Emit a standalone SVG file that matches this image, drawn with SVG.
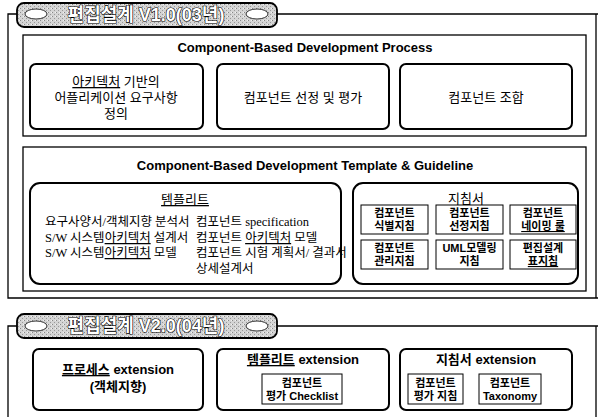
<svg xmlns="http://www.w3.org/2000/svg" width="598" height="417" viewBox="0 0 598 417">
<defs>
<pattern id="stip" width="4" height="4" patternUnits="userSpaceOnUse">
<rect width="4" height="4" fill="#d4d4d4"/>
<rect x="0" y="0" width="1" height="1" fill="#888"/>
<rect x="2" y="2" width="1" height="1" fill="#999"/>
<rect x="3" y="0" width="1" height="1" fill="#f2f2f2"/>
</pattern>
<style>
.frame{fill:none;stroke:#000;stroke-width:1.3}
.box{fill:#fff;stroke:#000;stroke-width:1.3}
.rbox{fill:#fff;stroke:#000;stroke-width:2}
.ibox{fill:#fff;stroke:#000;stroke-width:1}
.tab{fill:url(#stip);stroke:#000;stroke-width:1.8}
.cloud{fill:#fff;stroke:#333;stroke-width:1}
.tabt{font-family:"Liberation Sans","Noto Sans CJK KR",sans-serif;font-weight:bold;font-size:18px;fill:#fff;stroke:#000;stroke-width:1.2;text-anchor:middle;paint-order:stroke}
.ttl{font-family:"Liberation Sans","Noto Sans CJK KR",sans-serif;font-weight:bold;font-size:13px;fill:#000;text-anchor:middle}
.k{font-family:"Liberation Sans","Noto Sans CJK KR",sans-serif;font-size:13px;fill:#000;text-anchor:middle}
.kt{font-family:"Liberation Sans","Noto Sans CJK KR",sans-serif;font-size:13px;font-weight:bold;fill:#000;text-anchor:middle}
.kb{font-family:"Liberation Sans","Noto Sans CJK KR",sans-serif;font-size:11px;font-weight:bold;fill:#000;text-anchor:middle}
.s{font-family:"Liberation Serif","Noto Sans CJK KR",serif;font-size:12.5px;fill:#000}
.u{text-decoration:underline}
</style>
</defs>
<rect width="598" height="417" fill="#fff"/>

<g id="frame-v1">
<path class="frame" d="M17,14 H8 V298 H598 M277,14 H598 M596,14 V298"/>
<g id="tab-v1">
<rect class="tab" x="17" y="3" width="260" height="24" rx="7"/>
<ellipse class="cloud" cx="36" cy="14" rx="11" ry="5"/>
<ellipse class="cloud" cx="257" cy="14" rx="11" ry="5"/>
<text class="tabt" x="146" y="21">편집설계 V1.0(03년)</text>
</g>
</g>

<g id="process">
<rect class="box" x="23" y="35" width="563" height="101"/>
<text class="ttl" x="305" y="52">Component-Based Development Process</text>
<g id="p1">
<rect class="rbox" x="30" y="64" width="173" height="65" rx="6"/>
<text class="k" x="116" y="86"><tspan class="u">아키텍처</tspan> 기반의</text>
<text class="k" x="116" y="102">어플리케이션 요구사항</text>
<text class="k" x="116" y="118">정의</text>
</g>
<g id="p2">
<rect class="rbox" x="217" y="64" width="172" height="65" rx="6"/>
<text class="k" x="303" y="102">컴포넌트 선정 및 평가</text>
</g>
<g id="p3">
<rect class="rbox" x="400" y="64" width="172" height="65" rx="6"/>
<text class="k" x="486" y="102">컴포넌트 조합</text>
</g>
</g>

<g id="template-guideline">
<rect class="box" x="23" y="147" width="563" height="144"/>
<text class="ttl" x="305" y="170">Component-Based Development Template &amp; Guideline</text>
<g id="template">
<rect class="rbox" x="30" y="183" width="311" height="101" rx="10"/>
<text class="k u" x="185" y="204">템플리트</text>
<text class="s" x="45" y="226">요구사양서/객체지향 분석서</text>
<text class="s" x="45" y="242">S/W 시스템<tspan class="u">아키텍처</tspan> 설계서</text>
<text class="s" x="45" y="257">S/W 시스템<tspan class="u">아키텍처</tspan> 모델</text>
<text class="s" x="196" y="226">컴포넌트 specification</text>
<text class="s" x="196" y="242">컴포넌트 <tspan class="u">아키텍처</tspan> 모델</text>
<text class="s" x="196" y="257">컴포넌트 시험 계획서/ 결과서</text>
<text class="s" x="196" y="273">상세설계서</text>
</g>
<g id="guideline">
<rect class="rbox" x="353" y="183" width="225" height="101" rx="10"/>
<text class="k" x="466" y="203">지침서</text>
<g id="g1"><rect class="ibox" x="361" y="205" width="67" height="29"/>
<text class="kb" x="394.5" y="217">컴포넌트</text><text class="kb" x="394.5" y="230">식별지침</text></g>
<g id="g2"><rect class="ibox" x="436" y="205" width="67" height="29"/>
<text class="kb" x="469.5" y="217">컴포넌트</text><text class="kb" x="469.5" y="230">선정지침</text></g>
<g id="g3"><rect class="ibox" x="510" y="205" width="66" height="29"/>
<text class="kb" x="543" y="217">컴포넌트</text><text class="kb u" x="543" y="230">네이밍 룰</text></g>
<g id="g4"><rect class="ibox" x="361" y="240" width="67" height="29"/>
<text class="kb" x="394.5" y="252">컴포넌트</text><text class="kb" x="394.5" y="265">관리지침</text></g>
<g id="g5"><rect class="ibox" x="436" y="240" width="67" height="29"/>
<text class="kb" x="469.5" y="252">UML모델링</text><text class="kb" x="469.5" y="265">지침</text></g>
<g id="g6"><rect class="ibox" x="510" y="240" width="66" height="29"/>
<text class="kb" x="543" y="252">편집설계</text><text class="kb u" x="543" y="265">표지침</text></g>
</g>
</g>

<g id="frame-v2">
<path class="frame" d="M17,326 H8 V417 M277,326 H598 M596,326 V417"/>
<g id="tab-v2">
<rect class="tab" x="17" y="314" width="260" height="24" rx="7"/>
<ellipse class="cloud" cx="36" cy="326" rx="11" ry="5"/>
<ellipse class="cloud" cx="257" cy="326" rx="11" ry="5"/>
<text class="tabt" x="146" y="332">편집설계 V2.0(04년)</text>
</g>
</g>

<g id="v2-process">
<rect class="rbox" x="33" y="349" width="170" height="61" rx="6"/>
<text class="kt" x="118" y="374"><tspan class="u">프로세스</tspan> extension</text>
<text class="kt" x="118" y="391">(객체지향)</text>
</g>
<g id="v2-template">
<rect class="rbox" x="217" y="349" width="172" height="61" rx="6"/>
<text class="kt" x="303" y="364"><tspan class="u">템플리트</tspan> extension</text>
<g id="v2-t1"><rect class="ibox" x="262" y="374" width="80" height="30"/>
<text class="kb" x="302" y="387">컴포넌트</text><text class="kb" x="302" y="400">평가 Checklist</text></g>
</g>
<g id="v2-guideline">
<rect class="rbox" x="400" y="349" width="172" height="61" rx="6"/>
<text class="kt" x="486" y="364">지침서 extension</text>
<g id="v2-g1"><rect class="ibox" x="408" y="374" width="55" height="30"/>
<text class="kb" x="435.5" y="387">컴포넌트</text><text class="kb" x="435.5" y="400">평가 지침</text></g>
<g id="v2-g2"><rect class="ibox" x="479" y="374" width="62" height="30"/>
<text class="kb" x="510" y="387">컴포넌트</text><text class="kb" x="510" y="400">Taxonomy</text></g>
</g>
</svg>
